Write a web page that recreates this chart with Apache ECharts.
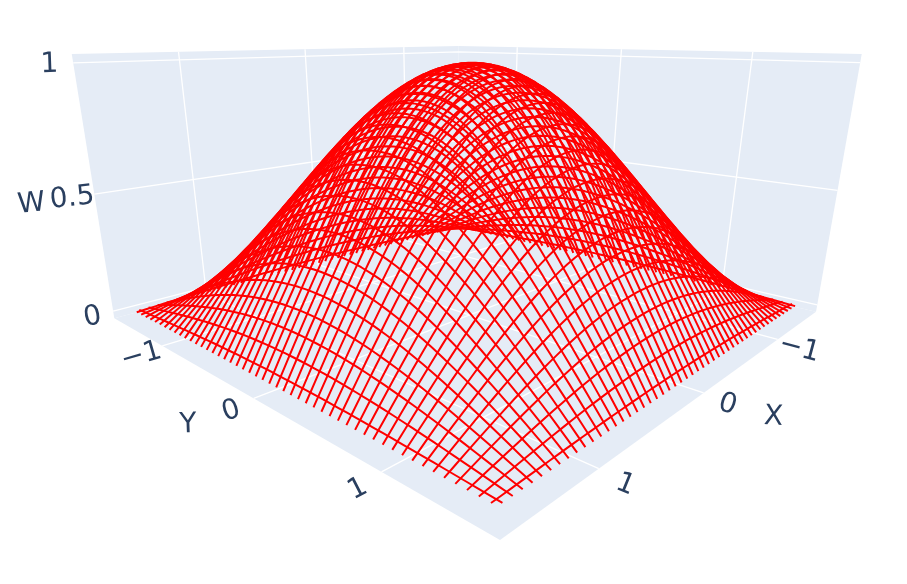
<!DOCTYPE html>
<html>
<head>
<meta charset="utf-8">
<title>W surface</title>
<style>
  html, body { margin: 0; padding: 0; background: #fff; }
  #chart { width: 907px; height: 584px; }
</style>
<script src="https://cdn.jsdelivr.net/npm/echarts@6/dist/echarts.min.js"></script>
</head>
<body>
<div id="chart"></div>
<script>
// ── data ─────────────────────────────────────────────────
const xTicks = [-1, 0, 1];
const yTicks = [-1, 0, 1];
const zTicks = [0, 0.5, 1];
const xTickText = ["\u22121", "0", "1"];
const yTickText = ["\u22121", "0", "1"];
const zTickText = ["0", "0.5", "1"];
const xRange = [-1.67, 1.67];
const yRange = [-1.67, 1.67];
const zRange = [-0.032, 1.032];

// position of each wire, and its height factor
const wirePos = [-1.539,-1.475,-1.411,-1.346,-1.282,-1.218,-1.154,-1.090,-1.026,-0.962,-0.898,-0.833,-0.769,-0.705,-0.641,-0.577,-0.513,-0.449,-0.385,-0.321,-0.256,-0.192,-0.128,-0.064,0,0.064,0.128,0.192,0.256,0.321,0.385,0.449,0.513,0.577,0.641,0.705,0.769,0.833,0.898,0.962,1.026,1.090,1.154,1.218,1.282,1.346,1.411,1.475,1.539];
const wireLevel = [0.0321,0.0960,0.1596,0.2225,0.2845,0.3454,0.4048,0.4626,0.5184,0.5721,0.6235,0.6723,0.7183,0.7615,0.8014,0.8381,0.8713,0.9010,0.9269,0.9491,0.9673,0.9816,0.9918,0.9979,1.0000,0.9979,0.9918,0.9816,0.9673,0.9491,0.9269,0.9010,0.8713,0.8381,0.8014,0.7615,0.7183,0.6723,0.6235,0.5721,0.5184,0.4626,0.4048,0.3454,0.2845,0.2225,0.1596,0.0960,0.0321];

// points along a wire, and their height factor
const nodePos = [-1.571,-1.507,-1.443,-1.379,-1.314,-1.250,-1.186,-1.122,-1.058,-0.994,-0.930,-0.866,-0.801,-0.737,-0.673,-0.609,-0.545,-0.481,-0.417,-0.353,-0.288,-0.224,-0.160,-0.096,-0.032,0.032,0.096,0.160,0.224,0.288,0.353,0.417,0.481,0.545,0.609,0.673,0.737,0.801,0.866,0.930,0.994,1.058,1.122,1.186,1.250,1.314,1.379,1.443,1.507,1.571];
const nodeLevel = [0,0.0641,0.1279,0.1912,0.2537,0.3151,0.3753,0.4339,0.4907,0.5455,0.5981,0.6482,0.6957,0.7403,0.7818,0.8201,0.8551,0.8866,0.9144,0.9385,0.9587,0.9749,0.9872,0.9954,0.9995,0.9995,0.9954,0.9872,0.9749,0.9587,0.9385,0.9144,0.8866,0.8551,0.8201,0.7818,0.7403,0.6957,0.6482,0.5981,0.5455,0.4907,0.4339,0.3753,0.3151,0.2537,0.1912,0.1279,0.0641,0];

// ── styles ───────────────────────────────
const WALL_COLOR = "#E5ECF6";
const GRID_COLOR = "#ffffff";
const WIRE_COLOR = "#ff0000";
const TEXT_COLOR = "#2a3f5f";
const FONT = '"DejaVu Sans", sans-serif';
const FONT_SIZE = 28;

// no echarts-gl here, so the 3D camera is done by hand:
// axis fractions (a, b, c) -> screen plane, which is then plotted on hidden value axes
function projectFrac(a, b, c) {
  const sx = 651.54 - 540.1 * a + 164.46 * b - 49.4 * c;
  const sy = 324.05 - 13.71 * a - 12.35 * b - 263.66 * c;
  const w = 1.4232 - 0.4482 * a - 0.4232 * b - 0.1104 * c;
  return [sx / w, sy / w];
}
const frac = (v, range) => (v - range[0]) / (range[1] - range[0]);
const project = (x, y, z) => projectFrac(frac(x, xRange), frac(y, yRange), frac(z, zRange));

function lineSeries(points, color, width, z) {
  return {
    type: "line",
    data: points,
    symbol: "none",
    silent: true,
    clip: false,
    animation: false,
    z,
    lineStyle: { color, width, cap: "butt", join: "round" },
  };
}

const series = [];

// ── walls and floor ──────────────────────
const walls = [
  [[1, 0, 0], [0, 0, 0], [0, 0, 1], [1, 0, 1]],
  [[0, 0, 0], [0, 1, 0], [0, 1, 1], [0, 0, 1]],
  [[1, 0, 0], [0, 0, 0], [0, 1, 0], [1, 1, 0]],
];
series.push({
  type: "custom",
  silent: true,
  animation: false,
  clip: false,
  z: 1,
  data: walls.map((_, i) => [i]),
  renderItem(params, api) {
    const wall = walls[params.dataIndex];
    return {
      type: "polygon",
      shape: { points: wall.map((p) => api.coord(projectFrac(p[0], p[1], p[2]))) },
      style: { fill: WALL_COLOR },
    };
  },
});

// ── gridlines ────────────────────────────
for (const t of zTicks) {
  const c = frac(t, zRange);
  series.push(lineSeries([projectFrac(1, 0, c), projectFrac(0, 0, c), projectFrac(0, 1, c)], GRID_COLOR, 1.3, 2));
}
for (const t of xTicks) {
  const a = frac(t, xRange);
  series.push(lineSeries([projectFrac(a, 0, 1), projectFrac(a, 0, 0), projectFrac(a, 1, 0)], GRID_COLOR, 1.3, 2));
}
for (const t of yTicks) {
  const b = frac(t, yRange);
  series.push(lineSeries([projectFrac(0, b, 1), projectFrac(0, b, 0), projectFrac(1, b, 0)], GRID_COLOR, 1.3, 2));
}

// ── surface wires ────────────────────────
wirePos.forEach((pos, k) => {
  const alongX = nodePos.map((x, i) => project(x, pos, nodeLevel[i] * wireLevel[k]));
  const alongY = nodePos.map((y, i) => project(pos, y, nodeLevel[i] * wireLevel[k]));
  series.push(lineSeries(alongX, WIRE_COLOR, 2, 3));
  series.push(lineSeries(alongY, WIRE_COLOR, 2, 3));
});

// ── tick labels and axis titles ──────────
// rotation in degrees, they follow the axis direction like the original labels
const xTickRot = [-15, -18, -22];
const yTickRot = [16, 18, 27];
const zTickRot = [11, 6, 2];
const labels = [];
xTicks.forEach((t, i) => labels.push({ pos: projectFrac(frac(t, xRange), 1.04, -0.01), text: xTickText[i], rot: xTickRot[i] }));
yTicks.forEach((t, i) => labels.push({ pos: projectFrac(1.04, frac(t, yRange), -0.01), text: yTickText[i], rot: yTickRot[i] }));
zTicks.forEach((t, i) => labels.push({ pos: projectFrac(1.04, 0, frac(t, zRange)), text: zTickText[i], rot: zTickRot[i] }));
labels.push({ pos: projectFrac(0.5, 1.11, 0), text: "X", rot: -3 });
labels.push({ pos: projectFrac(1.11, 0.5, 0), text: "Y", rot: 2 });
labels.push({ pos: projectFrac(1.11, 0, 0.5), text: "W", rot: 6 });

series.push({
  type: "custom",
  silent: true,
  animation: false,
  clip: false,
  z: 4,
  data: labels.map((l) => l.pos),
  renderItem(params, api) {
    const l = labels[params.dataIndex];
    const p = api.coord([api.value(0), api.value(1)]);
    return {
      type: "text",
      x: p[0],
      y: p[1] + 1,
      rotation: (l.rot * Math.PI) / 180,
      style: {
        text: l.text,
        fill: TEXT_COLOR,
        font: `${FONT_SIZE}px ${FONT}`,
        align: "center",
        verticalAlign: "middle",
      },
    };
  },
});

const chart = echarts.init(document.getElementById("chart"), null, { renderer: "canvas" });
chart.setOption({
  backgroundColor: "#ffffff",
  animation: false,
  tooltip: { show: false },
  legend: { show: false },
  grid: { left: 0, right: 0, top: 0, bottom: 0 },
  xAxis: { type: "value", min: 0, max: 907, show: false },
  yAxis: { type: "value", min: 0, max: 584, inverse: true, show: false },
  series,
});
</script>
</body>
</html>
